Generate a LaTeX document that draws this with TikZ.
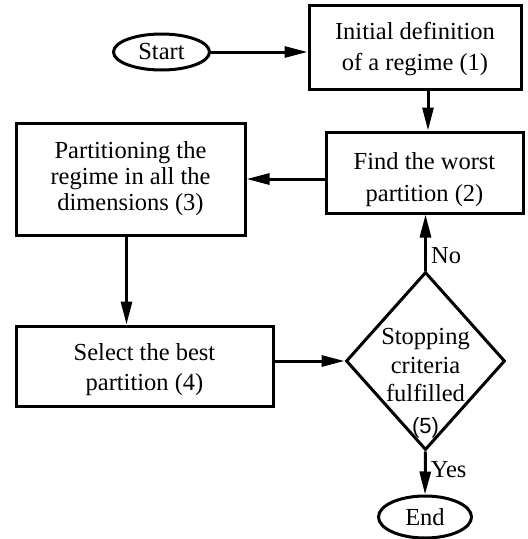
\documentclass[tikz,border=0pt]{standalone}
\usepackage{fontspec}
\setmainfont{Liberation Serif}
\newfontfamily\sansf{Liberation Sans}
\usetikzlibrary{shapes.geometric,arrows.meta}
\begin{document}
\begin{tikzpicture}[x=1pt,y=-1pt,
  every node/.style={font=\fontsize{24.5}{31}\selectfont, inner sep=0pt, align=center},
  boxnode/.style={draw, rectangle, line width=3pt},
  ovalnode/.style={draw, ellipse, line width=3pt},
  dianode/.style={draw, diamond, line width=3pt},
  arr/.style={line width=3pt, -{Triangle[length=23pt,width=11pt]}},
  lbl/.style={anchor=west}
]
\useasboundingbox (0,0) rectangle (528,539);
\node[ovalnode, minimum width=96pt, minimum height=36pt] (start) at (161.5,52) {Start};
\node[boxnode, minimum width=212pt, minimum height=84pt] (b1) at (415,47) {};
\node (b1t) at (415,49) {Initial definition\\of a regime (1)};
\node[boxnode, minimum width=197pt, minimum height=81pt] (b2) at (424.5,172.5) {};
\node[font=\fontsize{24.5}{32}\selectfont] (b2t) at (424.5,180) {Find the worst\\partition (2)};
\node[boxnode, minimum width=229pt, minimum height=112pt, font=\fontsize{24.5}{26}\selectfont] (b3) at (130.5,179) {Partitioning the\\regime in all the\\dimensions (3)};
\node[boxnode, minimum width=257pt, minimum height=80pt] (b4) at (144.5,366) {};
\node[font=\fontsize{24.5}{30}\selectfont] (b4t) at (144.5,370) {Select the best\\partition (4)};
\node[dianode, minimum width=159pt, minimum height=178pt] (dia) at (425.5,361) {};
\node[font=\fontsize{24.5}{28.5}\selectfont] (diatext) at (425.5,383) {Stopping\\criteria\\fulfilled\\[3pt]{\sansf\fontsize{22}{28}\selectfont(5)}};
\node[ovalnode, minimum width=93pt, minimum height=42pt] (end) at (425,517) {End};

\draw[arr] (start.east) -- (start.east -| b1.west);
\draw[arr] ([xshift=13pt]b1.south) -- ([xshift=13pt]b1.south |- b2.north);
\draw[arr] (b2.west |- b3.east) -- (b3.east);
\draw[arr] ([xshift=-4pt]b3.south) -- ([xshift=-4pt]b3.south |- b4.north);
\draw[arr] (b4.east |- dia.west) -- (dia.west);
\draw[arr] (dia.north) -- (dia.north |- b2.south) node[lbl, pos=0.27] (no) {\,No};
\draw[arr] (dia.south) -- (end.north) node[lbl, pos=0.42] (yes) {\,Yes};
\end{tikzpicture}
\end{document}
